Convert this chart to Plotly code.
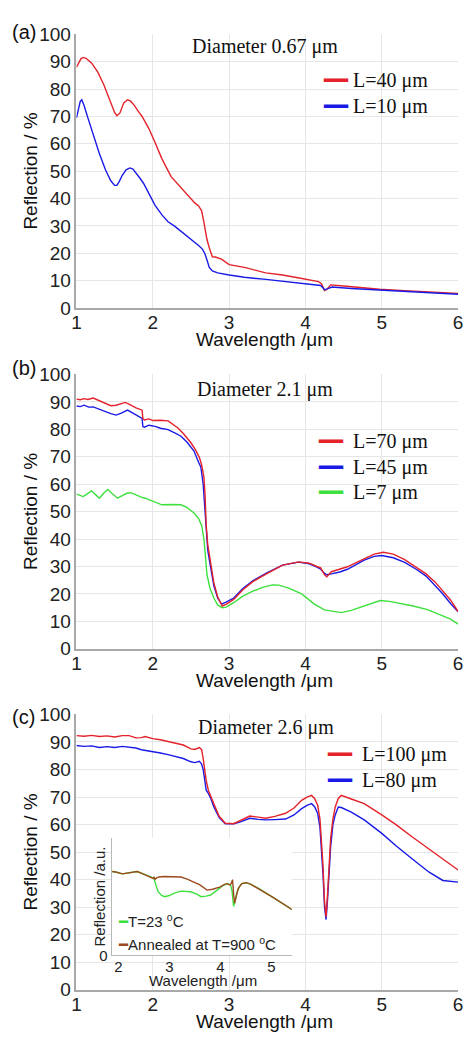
import plotly.graph_objects as go

# ---------------- data ----------------
# Panel (a): Diameter 0.67 um
a_red_x = [1.0,1.03,1.06,1.09,1.13,1.2,1.28,1.36,1.44,1.5,1.53,1.57,1.62,1.67,1.71,1.76,1.82,1.86,1.9,1.95,2.03,2.12,2.24,2.35,2.45,2.55,2.6,2.64,2.67,2.69,2.71,2.74,2.78,2.82,2.9,3.0,3.2,3.48,3.7,3.9,4.1,4.17,4.21,4.25,4.28,4.33,4.5,4.75,4.97,5.3,5.6,5.8,6.0]
a_red_y = [88,89.8,91.2,91.6,91.2,89.5,86.2,81.5,76,71.5,70.3,71.3,75,76.1,75.6,74,71.5,70,68,65.5,60.5,54.5,48,44.6,41.5,38.4,37.3,35.5,31.3,27.5,25,22,18.7,18.6,17.8,15.8,14.8,12.8,12,11,10,9.6,8.8,6.3,6.7,8.4,8,7.4,6.8,6.3,5.8,5.6,5.3]
a_blue_x = [1.0,1.02,1.05,1.07,1.1,1.15,1.22,1.3,1.38,1.45,1.5,1.53,1.56,1.6,1.65,1.7,1.74,1.78,1.83,1.88,1.95,2.03,2.12,2.2,2.29,2.4,2.5,2.6,2.65,2.68,2.71,2.74,2.78,2.85,3.0,3.2,3.48,3.8,4.1,4.2,4.25,4.3,4.35,4.6,4.97,5.3,5.6,6.0]
a_blue_y = [69.5,72.5,75.5,76.1,74,69.5,63,56.5,50.5,46.5,44.8,44.8,46.2,48.5,50.5,51.2,50.8,49.5,47.5,45.5,41.5,37.5,34,31.5,29.8,27.3,25.3,22.8,21.5,20,17.5,14.8,13.5,12.8,12,11.2,10.4,9.5,8.7,8.2,6.6,7.2,7.6,7.1,6.5,6.0,5.5,5.0]

# Panel (b): Diameter 2.1 um
b_red_x = [1.0,1.05,1.1,1.15,1.22,1.3,1.39,1.45,1.52,1.58,1.64,1.7,1.78,1.86,1.87,1.89,1.95,2.0,2.1,2.2,2.27,2.33,2.4,2.5,2.56,2.61,2.64,2.67,2.685,2.7,2.72,2.75,2.8,2.85,2.91,2.96,3.06,3.18,3.31,3.5,3.7,3.91,4.05,4.15,4.2,4.25,4.28,4.34,4.45,4.55,4.65,4.77,4.9,5.02,5.15,5.3,5.45,5.58,5.7,5.8,5.9,6.0]
b_red_y = [91,90.8,91.2,90.9,91.4,90.4,89.4,88.6,88.8,89.3,89.8,89,87.8,87,84,83.4,83.8,83.2,83.3,83.1,81.8,80.5,78.5,75.1,72.5,69.8,67,62.6,56,45,38,33,24,19,15.6,16.2,18,21.5,24.5,27.5,30.5,31.7,31.2,30,29.5,27,26.3,28.1,29,29.9,31.2,32.9,34.5,35.2,34.5,32.5,29.8,27.3,24.3,21.2,17.8,13.6]
b_blue_x = [1.0,1.05,1.1,1.16,1.22,1.3,1.39,1.45,1.52,1.58,1.67,1.72,1.8,1.86,1.87,1.89,1.95,2.03,2.1,2.2,2.3,2.37,2.45,2.54,2.6,2.63,2.66,2.68,2.7,2.72,2.75,2.8,2.85,2.9,2.96,3.06,3.18,3.31,3.5,3.7,3.91,4.05,4.15,4.2,4.25,4.28,4.34,4.45,4.55,4.65,4.77,4.9,5.0,5.15,5.3,5.45,5.58,5.7,5.8,5.9,6.0]
b_blue_y = [88.5,88.3,88.8,88.1,88.2,87.3,86.4,85.7,85.2,85.8,87,86.2,85,84,81,80.8,81.5,81.1,80.4,79.9,78.5,77.5,75.3,72.1,68,66.2,60,52,43,36,31,23,18.5,16.3,17,18.5,22,24.8,27.8,30.5,31.6,31,29.8,29,27.5,27,27.3,28,29,30.5,32.3,33.7,34,33.2,31.5,29,26.5,23,20,16.5,13.5]
b_green_x = [1.0,1.05,1.09,1.14,1.2,1.25,1.3,1.36,1.41,1.47,1.54,1.6,1.66,1.71,1.78,1.85,1.9,2.0,2.12,2.25,2.37,2.45,2.54,2.6,2.64,2.67,2.69,2.71,2.75,2.8,2.85,2.91,2.96,3.06,3.18,3.31,3.45,3.57,3.65,3.78,3.95,4.12,4.25,4.34,4.4,4.47,4.6,4.77,4.9,4.98,5.1,5.25,5.41,5.6,5.75,5.9,6.0]
b_green_y = [56.4,56,55.5,56.5,57.6,56.2,54.9,56.8,58.1,56.5,54.9,55.8,56.7,56.9,56,55.3,54.9,53.8,52.5,52.6,52.5,51.5,49.5,47.5,45,40,33,27,22,18.5,16,15,15.2,16.8,19.2,21,22.5,23.3,23.2,22.1,20,16.2,14.2,13.8,13.3,13.2,14,15.6,17,17.6,17.3,16.5,15.6,14.3,12.6,10.8,9.0]

# Panel (c): Diameter 2.6 um
c_x = [1.0,1.1,1.2,1.3,1.4,1.5,1.6,1.69,1.78,1.85,1.9,2.0,2.1,2.2,2.3,2.4,2.5,2.55,2.61,2.64,2.66,2.68,2.7,2.73,2.76,2.8,2.87,2.95,3.06,3.15,3.27,3.38,3.48,3.6,3.74,3.85,3.95,4.02,4.08,4.12,4.16,4.19,4.21,4.23,4.25,4.27,4.29,4.31,4.33,4.36,4.39,4.43,4.47,4.6,4.77,5.0,5.19,5.4,5.62,5.8,6.0]
c_red_y = [92.3,92.1,92.4,92,92.2,91.8,92.3,92.3,91.5,91.6,92,91.2,90.8,90.1,89.5,88.9,87.5,87.3,88,87.2,84,80,76,72.3,70.5,67.6,63,60.5,60.3,61.5,63.1,62.7,62.3,63,64.1,66,68.8,70,70.6,69.5,67,62,55,45,32,26.5,35,48,55,62,66.4,69.5,70.6,69.3,67.6,63.5,59.9,55.5,51,47.5,43.5]
c_blue_y = [88.7,88.4,88.6,88,88.3,88,88.4,88,87.8,87.2,87,86.5,86,85.4,84.6,84,82.8,82.5,83,82,80,76.5,72.5,71.2,69.5,66.4,62.5,60.3,60.3,61,62.3,61.9,61.7,61.8,62,63.5,65.8,67,67.6,66.5,64,59,52,42,30,25.5,33,45,52,60,63.5,66.4,66.2,64.5,61.7,56.8,52.2,47.5,42.7,39.7,39.1]

# Inset (arbitrary units)
i_brown_x = [1.88,1.95,2.08,2.2,2.3,2.37,2.45,2.53,2.6,2.65,2.68,2.7,2.72,2.75,2.8,2.9,2.97,3.1,3.23,3.35,3.49,3.6,3.74,3.85,4.0,4.08,4.13,4.18,4.21,4.24,4.26,4.28,4.31,4.35,4.42,4.51,4.6,4.75,4.9,5.05,5.2,5.41]
i_brown_y = [0.714,0.71,0.694,0.70,0.71,0.714,0.70,0.686,0.675,0.667,0.655,0.665,0.648,0.66,0.668,0.672,0.672,0.67,0.667,0.65,0.625,0.6,0.556,0.563,0.583,0.605,0.611,0.6,0.61,0.645,0.52,0.444,0.50,0.57,0.611,0.619,0.605,0.57,0.528,0.49,0.45,0.389]
i_green_x = [1.88,1.95,2.08,2.2,2.3,2.37,2.45,2.53,2.6,2.65,2.7,2.72,2.75,2.78,2.85,2.91,3.0,3.1,3.23,3.42,3.55,3.62,3.72,3.81,3.95,4.06,4.15,4.2,4.23,4.26,4.29,4.33,4.38,4.42,4.51,4.6,4.75,4.9,5.05,5.2,5.41]
i_green_y = [0.714,0.71,0.694,0.70,0.71,0.714,0.70,0.686,0.675,0.667,0.65,0.625,0.58,0.542,0.51,0.5,0.51,0.53,0.547,0.542,0.52,0.5,0.505,0.514,0.56,0.597,0.611,0.6,0.55,0.417,0.47,0.54,0.59,0.611,0.619,0.605,0.57,0.528,0.49,0.45,0.389]

x_ticks = [1, 2, 3, 4, 5, 6]
y_ticks = [0, 10, 20, 30, 40, 50, 60, 70, 80, 90, 100]
inset_x_ticks = [2, 3, 4, 5]

RED = "#e3222a"
BLUE = "#1a1ae6"
GREEN = "#3de03d"
BROWN = "#9c4a1e"

W, H = 469, 1038
def px(x):
    return x / W
def py(y):
    return 1 - y / H

fig = go.Figure()

def line(x, y, color, name, ax):
    fig.add_trace(go.Scatter(
        x=x, y=y, mode="lines", name=name,
        line=dict(color=color, width=1.4),
        xaxis="x" + ax, yaxis="y" + ax,
        showlegend=False, hoverinfo="skip"))

line(a_red_x, a_red_y, RED, "L=40 μm", "")
line(a_blue_x, a_blue_y, BLUE, "L=10 μm", "")
line(b_green_x, b_green_y, GREEN, "L=7 μm", "2")
line(b_blue_x, b_blue_y, BLUE, "L=45 μm", "2")
line(b_red_x, b_red_y, RED, "L=70 μm", "2")
line(c_x, c_blue_y, BLUE, "L=80 μm", "3")
line(c_x, c_red_y, RED, "L=100 μm", "3")
line(i_green_x, i_green_y, GREEN, "T=23 oC", "4")
line(i_brown_x, i_brown_y, BROWN, "Annealed at T=900 oC", "4")

TICKFONT = dict(family="Liberation Sans, Arial", size=19, color="#222")
GRID = "#e6e6e6"
AXLINE = "#a8a8a8"

panels = {
    "": (25, 304),
    "2": (372, 652),
    "3": (719, 1000),
}
xdom = [px(73), px(463)]
layout_axes = {}
for key, (top, bot) in panels.items():
    layout_axes["xaxis" + key] = dict(
        domain=xdom, range=[1, 6], tickvals=x_ticks, ticktext=[str(t) for t in x_ticks],
        showgrid=True, gridcolor=GRID, gridwidth=1, showline=True, linecolor=AXLINE,
        linewidth=1.5, ticks="", ticklen=0, ticklabelstandoff=-3, tickfont=TICKFONT,
        anchor="y" + key, zeroline=False)
    layout_axes["yaxis" + key] = dict(
        domain=[py(bot), py(top)], range=[0, 100], tickvals=y_ticks,
        ticktext=[str(t) for t in y_ticks],
        showgrid=True, gridcolor=GRID, gridwidth=1, showline=True, linecolor=AXLINE,
        linewidth=1.5, ticks="", ticklen=0, tickfont=TICKFONT, anchor="x" + key, zeroline=False)

INFONT = dict(family="Liberation Sans, Arial", size=15, color="#222")
layout_axes["xaxis4"] = dict(
    domain=[px(109), px(293)], range=[1.87, 5.4], tickvals=inset_x_ticks,
    ticktext=[str(t) for t in inset_x_ticks], showgrid=False, showline=True,
    linecolor="#b8b8b8", linewidth=1.2, ticks="", ticklen=0, ticklabelstandoff=-3,
    tickfont=INFONT, anchor="y4", zeroline=False)
layout_axes["yaxis4"] = dict(
    domain=[py(965), py(845)], range=[0, 1], tickvals=[0], ticktext=["0"],
    showgrid=False, showline=True, linecolor="#b8b8b8", linewidth=1.2, ticks="", ticklen=0,
    tickfont=INFONT, anchor="x4", zeroline=False)

annotations = []
def text(xpix, ypix, s, font, angle=0, xanchor="center"):
    annotations.append(dict(x=px(xpix), y=py(ypix), xref="paper", yref="paper",
                            text=s, showarrow=False, font=font, textangle=angle,
                            xanchor=xanchor, yanchor="middle"))

LBL = dict(family="Liberation Sans, Arial", size=20, color="#111")
TTL = dict(family="Liberation Serif, Times New Roman", size=20, color="#111")
AXT = dict(family="Liberation Sans, Arial", size=19, color="#111")
LEGFONT = dict(family="Liberation Serif, Times New Roman", size=20, color="#111")

def legend_item(xpix, ypix, color, label, gap=1):
    sample = "<span style='font-family:DejaVu Sans;color:%s'>━━</span>" % color
    text(xpix, ypix, sample + "&nbsp;" * gap + label, LEGFONT, xanchor="left")

text(19, 22, "(a)", LBL)
text(19, 365, "(b)", LBL)
text(19, 722, "(c)", LBL)
text(266, 37, "Diameter 0.67 μm", TTL)
text(266, 387, "Diameter 2.1 μm", TTL)
text(267, 732, "Diameter 2.6 μm", TTL)
for top, bot in panels.values():
    text(265, bot + 32, "Wavelength /μm", AXT)
    text(26, (top + bot) / 2, "Reflection / %", AXT, angle=-90)

# legends
legend_item(323, 71, RED, "L=40 μm")
legend_item(323, 98, BLUE, "L=10 μm")
legend_item(318, 440, RED, "L=70 μm", 2)
legend_item(318, 466, BLUE, "L=45 μm", 2)
legend_item(318, 492, GREEN, "L=7 μm", 2)
legend_item(327, 759, RED, "L=100 μm", 2)
legend_item(327, 786, BLUE, "L=80 μm", 2)

# inset labels and legend
text(97, 905, "Reflection /a.u.", INFONT, angle=-90)
text(202, 991, "Wavelength /μm", INFONT)
INLEG = dict(family="Liberation Sans, Arial", size=15, color="#222")
text(113, 930, "<span style='font-family:DejaVu Sans;color:%s'>━</span>T=23 <sup>o</sup>C" % GREEN, INLEG, xanchor="left")
text(113, 953, "<span style='font-family:DejaVu Sans;color:%s'>━</span>Annealed at T=900 <sup>o</sup>C" % BROWN, INLEG, xanchor="left")

fig.update_layout(
    width=W, height=H, autosize=False,
    margin=dict(l=0, r=0, t=0, b=0),
    paper_bgcolor="white", plot_bgcolor="white",
    showlegend=False,
    annotations=annotations,
    **layout_axes,
)

fig.write_html("out.html", config={"displayModeBar": False},
               post_script="document.body.style.margin='0';document.body.style.overflow='hidden';")
